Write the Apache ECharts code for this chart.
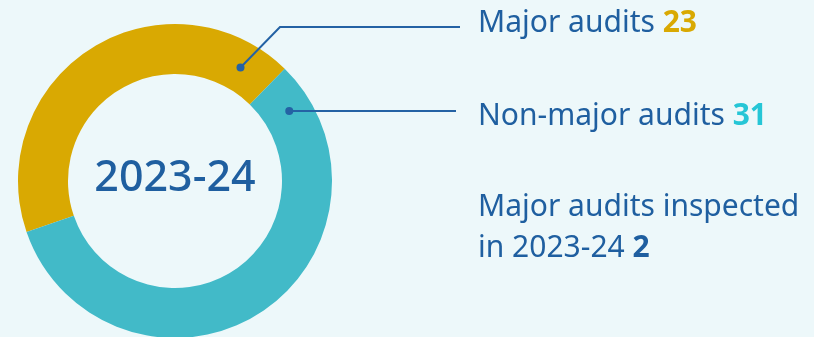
<!DOCTYPE html>
<html>
<head>
<meta charset="utf-8">
<script src="https://cdn.jsdelivr.net/npm/echarts@6/dist/echarts.min.js"></script>
<style>
html,body{margin:0;padding:0;background:#edf8fa;}
#c{width:814px;height:337px;}
</style>
</head>
<body>
<div id="c"></div>
<script>
// Data
var categories = ['Major audits', 'Non-major audits'];
var values = [23, 31];
var inspectedLabel = 'Major audits inspected\nin 2023-24';
var inspectedValue = 2;
var centerLabel = '2023-24';

// Styles / layout
var colors = ['#d9a902', '#42bac8'];
var valueColors = ['#d9a902', '#26c6d6', '#1f5fa0'];
var textBlue = '#1f5fa0';
var cx = 175, cy = 181, rIn = 107, rOut = 157;
var font = '"Noto Sans", sans-serif';

function pt(angDeg, r) {
  var a = angDeg * Math.PI / 180;
  return [cx + r * Math.cos(a), cy - r * Math.sin(a)];
}
var d1 = pt(60, 131);
var d2 = pt(31.5, 134);

var chart = echarts.init(document.getElementById('c'));
chart.setOption({
  backgroundColor: '#edf8fa',
  animation: false,
  series: [{
    type: 'pie',
    center: [cx, cy],
    radius: [rIn, rOut],
    startAngle: 199,
    clockwise: true,
    label: { show: false },
    labelLine: { show: false },
    silent: true,
    data: categories.map(function (c, i) {
      return { name: c, value: values[i], itemStyle: { color: colors[i] } };
    })
  }],
  graphic: [
    { type: 'text', z: 100, x: cx, y: cy - 2, style: {
        text: centerLabel, fill: textBlue, font: '500 43px ' + font,
        align: 'center', verticalAlign: 'middle' } },
    { type: 'polyline', z: 100, shape: { points: [d1, [280, 27], [460, 27]] },
      style: { stroke: '#2462a4', lineWidth: 2, fill: null } },
    { type: 'circle', z: 101, shape: { cx: d1[0], cy: d1[1], r: 4 }, style: { fill: '#2462a4' } },
    { type: 'polyline', z: 100, shape: { points: [d2, [456, d2[1]]] },
      style: { stroke: '#2462a4', lineWidth: 2, fill: null } },
    { type: 'circle', z: 101, shape: { cx: d2[0], cy: d2[1], r: 4 }, style: { fill: '#2462a4' } },
    { type: 'text', z: 100, x: 478, y: 3, style: {
        text: '{a|' + categories[0] + ' }{b|' + values[0] + '}',
        rich: {
          a: { fill: textBlue, fontSize: 30, fontFamily: font, lineHeight: 40 },
          b: { fill: valueColors[0], fontSize: 30, fontWeight: 'bold', fontFamily: font, lineHeight: 40 }
        } } },
    { type: 'text', z: 100, x: 478, y: 96, style: {
        text: '{a|' + categories[1] + ' }{b|' + values[1] + '}',
        rich: {
          a: { fill: textBlue, fontSize: 30, fontFamily: font, lineHeight: 40 },
          b: { fill: valueColors[1], fontSize: 30, fontWeight: 'bold', fontFamily: font, lineHeight: 40 }
        } } },
    { type: 'text', z: 100, x: 478, y: 187, style: {
        text: '{a|' + inspectedLabel.split('\n')[0] + '}\n{a|' + inspectedLabel.split('\n')[1] + ' }{b|' + inspectedValue + '}',
        rich: {
          a: { fill: textBlue, fontSize: 30, fontFamily: font, lineHeight: 41 },
          b: { fill: valueColors[2], fontSize: 30, fontWeight: 'bold', fontFamily: font, lineHeight: 41 }
        } } }
  ]
});
</script>
</body>
</html>
